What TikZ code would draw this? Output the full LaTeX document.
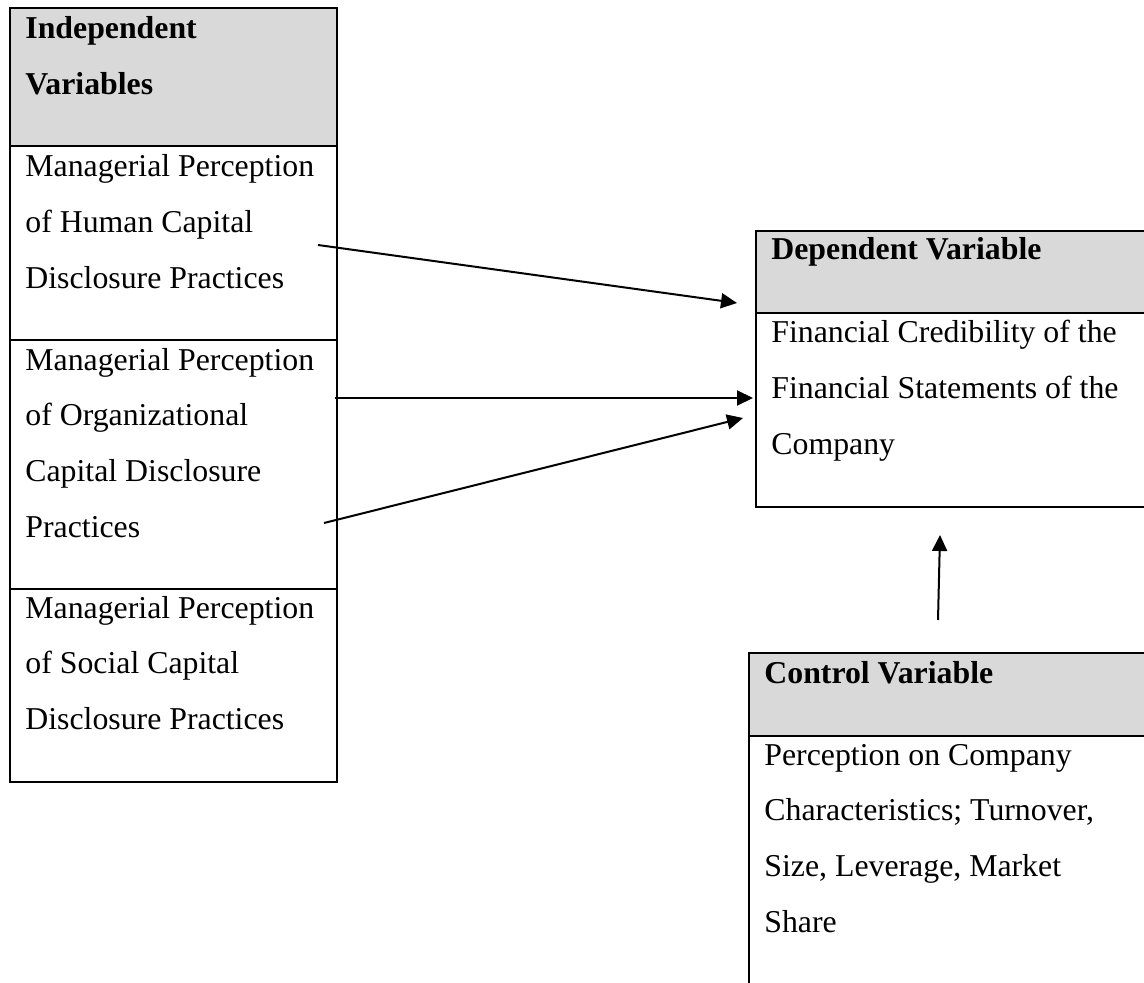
\documentclass[tikz,border=0pt]{standalone}
\usepackage{fontspec}
\setmainfont{Liberation Serif}
\usetikzlibrary{arrows.meta}
\definecolor{headgrey}{HTML}{D9D9D9}
\newcommand{\varcell}[5]{ \draw[cellline,fill=#5] ( #1 , #2 ) rectangle ( #3 , #4 );}
\tikzset{
  cellline/.style={line width=1pt},
  celltext/.style={anchor=base west, inner sep=0pt, align=left, font=\fontsize{15.9}{27.85}\selectfont},
  headtext/.style={celltext, font=\fontsize{15.9}{27.85}\selectfont\bfseries},
  link/.style={line width=1pt, -{Triangle[length=8pt,width=7.5pt]}},
}

\begin{document}
\begin{tikzpicture}[x=0.5pt,y=-0.5pt]
\useasboundingbox (0,0) rectangle (1144,983);
\clip (0,0) rectangle (1144,983);
% independent variables column
\varcell{10}{8}{337}{146}{headgrey}
\varcell{10}{146}{337}{340}{white}
\varcell{10}{340}{337}{589}{white}
\varcell{10}{589}{337}{782}{white}
% dependent variable box
\varcell{756}{231}{1170}{313}{headgrey}
\varcell{756}{313}{1170}{507}{white}
% control variable box
\varcell{749}{653}{1170}{736}{headgrey}
\varcell{749}{736}{1170}{1010}{white}
% cell texts (placed at the baseline of their last line)
\node[headtext] (ivhead) at (25,94.7) {Independent\\Variables};
\node[celltext] (ivhuman) at (25,288.4) {Managerial Perception\\of Human Capital\\Disclosure Practices};
\node[celltext] (ivorg) at (25,537.1) {Managerial Perception\\of Organizational\\Capital Disclosure\\Practices};
\node[celltext] (ivsocial) at (25,729.4) {Managerial Perception\\of Social Capital\\Disclosure Practices};
\node[headtext] (dvhead) at (771,260) {Dependent Variable};
\node[celltext] (dvbody) at (771,454.4) {Financial Credibility of the\\Financial Statements of the\\Company};
\node[headtext] (cvhead) at (764,683) {Control Variable};
\node[celltext] (cvbody) at (764,932.1) {Perception on Company\\Characteristics; Turnover,\\Size, Leverage, Market\\Share};
% arrow ends
\coordinate (humanout) at (318,245);
\coordinate (orgout) at (335,398);
\coordinate (orgout2) at (324,523);
\coordinate (dvin1) at (737,303);
\coordinate (dvin2) at (753,398);
\coordinate (dvin3) at (743,418);
\coordinate (cvout) at (938,620);
\coordinate (dvin4) at (940,535);
% arrows
\draw[link] (humanout) -- (dvin1);
\draw[link] (orgout) -- (dvin2);
\draw[link] (orgout2) -- (dvin3);
\draw[link] (cvout) -- (dvin4);
\end{tikzpicture}
\end{document}
